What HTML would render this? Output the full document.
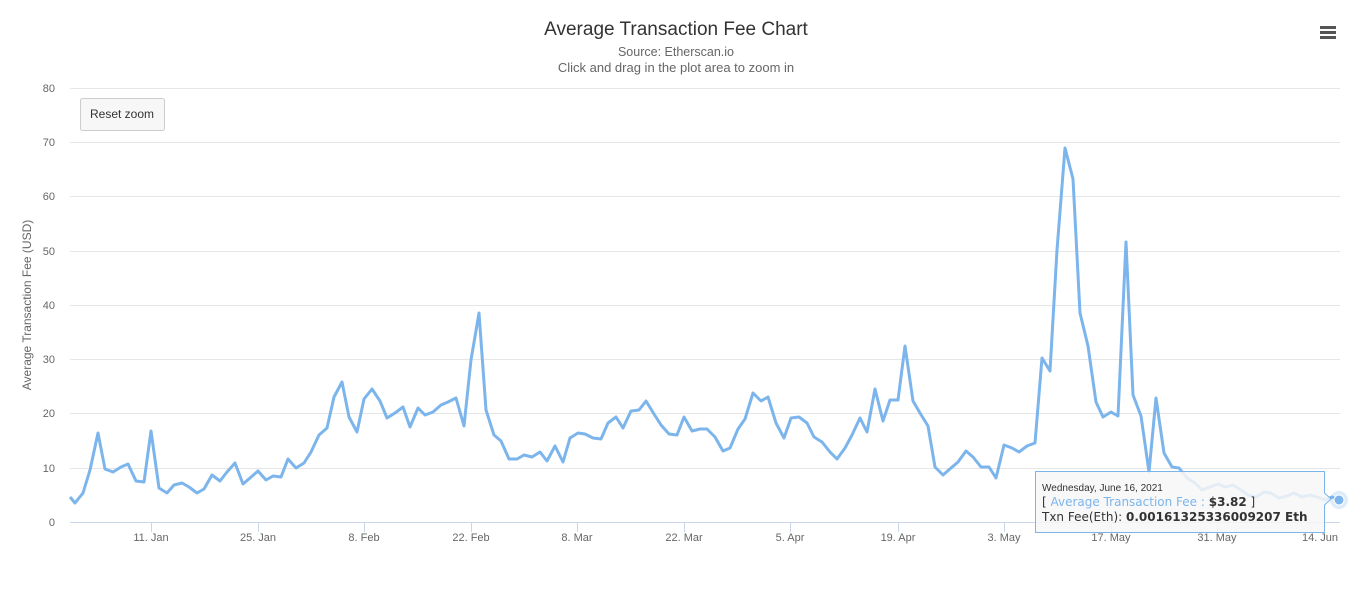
<!DOCTYPE html>
<html><head><meta charset="utf-8"><style>
html,body{margin:0;padding:0;background:#fff;}
svg{display:block;font-family:"Liberation Sans",sans-serif;}
</style></head><body>
<svg width="1361" height="592" viewBox="0 0 1361 592" xmlns="http://www.w3.org/2000/svg">
<rect width="1361" height="592" fill="#fff"/>
<g stroke="#e6e6e6" stroke-width="1">
<line x1="70" x2="1340" y1="88.5" y2="88.5"/>
<line x1="70" x2="1340" y1="142.5" y2="142.5"/>
<line x1="70" x2="1340" y1="196.5" y2="196.5"/>
<line x1="70" x2="1340" y1="251.5" y2="251.5"/>
<line x1="70" x2="1340" y1="305.5" y2="305.5"/>
<line x1="70" x2="1340" y1="359.5" y2="359.5"/>
<line x1="70" x2="1340" y1="413.5" y2="413.5"/>
<line x1="70" x2="1340" y1="468.5" y2="468.5"/>
</g>
<line x1="70" x2="1340" y1="522.5" y2="522.5" stroke="#ccd6eb"/>
<g stroke="#ccd6eb">
<line x1="151.5" x2="151.5" y1="522" y2="532"/><line x1="258.5" x2="258.5" y1="522" y2="532"/>
<line x1="364.5" x2="364.5" y1="522" y2="532"/><line x1="471.5" x2="471.5" y1="522" y2="532"/>
<line x1="577.5" x2="577.5" y1="522" y2="532"/><line x1="684.5" x2="684.5" y1="522" y2="532"/>
<line x1="790.5" x2="790.5" y1="522" y2="532"/><line x1="898.5" x2="898.5" y1="522" y2="532"/>
<line x1="1004.5" x2="1004.5" y1="522" y2="532"/><line x1="1111.5" x2="1111.5" y1="522" y2="532"/>
<line x1="1217.5" x2="1217.5" y1="522" y2="532"/><line x1="1324.5" x2="1324.5" y1="522" y2="532"/>
</g>
<g fill="#666" font-size="11" text-anchor="end">
<text x="55" y="92">80</text><text x="55" y="146">70</text><text x="55" y="200">60</text>
<text x="55" y="255">50</text><text x="55" y="309">40</text><text x="55" y="363">30</text>
<text x="55" y="417">20</text><text x="55" y="472">10</text><text x="55" y="526">0</text>
</g>
<g fill="#666" font-size="11" text-anchor="middle">
<text x="151" y="541">11. Jan</text><text x="258" y="541">25. Jan</text><text x="364" y="541">8. Feb</text>
<text x="471" y="541">22. Feb</text><text x="577" y="541">8. Mar</text><text x="684" y="541">22. Mar</text>
<text x="790" y="541">5. Apr</text><text x="898" y="541">19. Apr</text><text x="1004" y="541">3. May</text>
<text x="1111" y="541">17. May</text><text x="1217" y="541">31. May</text><text x="1320" y="541">14. Jun</text>
</g>
<text x="31" y="305" fill="#666" font-size="12" text-anchor="middle" transform="rotate(-90 31 305)">Average Transaction Fee (USD)</text>
<text x="676" y="35" fill="#333" font-size="19" text-anchor="middle">Average Transaction Fee Chart</text>
<text x="676" y="56" fill="#666" font-size="12.5" text-anchor="middle">Source: Etherscan.io</text>
<text x="676" y="72" fill="#666" font-size="13" text-anchor="middle">Click and drag in the plot area to zoom in</text>
<g fill="#555"><rect x="1320" y="26" width="16" height="3"/><rect x="1320" y="31" width="16" height="3"/><rect x="1320" y="36" width="16" height="3"/></g>
<rect x="80.5" y="98.5" width="84" height="32" rx="2" fill="#f7f7f7" stroke="#ccc"/>
<text x="122" y="118" fill="#333" font-size="12" text-anchor="middle">Reset zoom</text>
<polyline fill="none" stroke="#7cb5ec" stroke-width="3" stroke-linejoin="round" points="70,497 75,503 83,493 90,470 98,433 105,469 113,472 121,467 128,464 136,481 144,482 151,431 159,488 167,493 174,485 182,483 189,487 197,493 204,489 212,475 220,481 227,472 235,463 243,484 250,478 258,471 266,480 273,476 281,477 288,459 296,468 304,463 311,452 319,435 327,428 334,397 342,382 349,417 357,432 364,399 372,389 380,401 387,418 395,413 403,407 410,427 418,408 425,415 433,412 441,405 448,402 456,398 464,426 471,360 479,313 486,410 494,435 501,441 509,459 517,459 524,455 532,457 540,452 547,461 555,446 563,462 570,438 578,433 585,434 593,438 601,439 608,423 616,417 623,428 631,411 639,410 646,401 654,414 661,425 669,434 677,435 684,417 692,431 700,429 707,429 715,437 723,451 730,448 738,429 745,419 753,393 761,401 768,397 776,423 784,438 791,418 799,417 807,423 814,437 822,442 830,452 837,459 845,448 852,435 860,418 867,432 875,389 883,421 890,400 898,400 905,346 913,401 920,413 928,426 935,467 943,475 951,468 958,462 966,451 973,457 981,467 989,467 996,478 1004,445 1012,448 1019,452 1027,446 1035,443 1042,358 1050,371 1057,250 1065,148 1073,179 1080,313 1088,346 1096,402 1103,417 1111,412 1118,416 1126,242 1133,395 1141,416 1149,472 1156,398 1164,453 1172,467 1179,468 1187,478 1195,483 1202,490 1210,487 1218,484 1225,487 1233,485 1241,490 1248,495 1256,497 1264,492 1271,493 1279,498 1287,496 1294,493 1302,497 1310,495 1317,497 1325,500 1332,497 1339,500"/>
<circle cx="1339" cy="500" r="9" fill="#7cb5ec" opacity="0.25"/>
<circle cx="1339" cy="500" r="5" fill="#7cb5ec" stroke="#fff" stroke-width="1"/>
<path d="M1035.5,471.5 H1324.5 V493 L1331,499 L1324.5,505 V532.5 H1035.5 Z" fill="rgba(247,247,247,0.85)" stroke="#7cb5ec" stroke-width="1"/>
<text x="1042" y="491" fill="#333" font-size="10">Wednesday, June 16, 2021</text>
<text x="1042" y="506" font-size="12" fill="#333" font-family="DejaVu Sans, sans-serif">[ <tspan fill="#7cb5ec">Average Transaction Fee :</tspan> <tspan font-weight="bold">$3.82</tspan> ]</text>
<text x="1042" y="521" font-size="12" fill="#333" font-family="DejaVu Sans, sans-serif">Txn Fee(Eth): <tspan font-weight="bold">0.00161325336009207 Eth</tspan></text>
</svg>
</body></html>
